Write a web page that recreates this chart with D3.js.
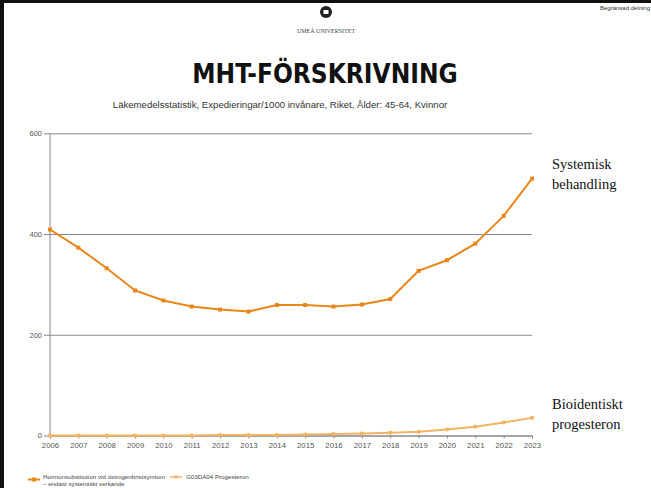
<!DOCTYPE html>
<html><head><meta charset="utf-8">
<script src="https://cdn.jsdelivr.net/npm/d3@7"></script>
<style>body{margin:0;background:#fff}svg{display:block}</style>
</head><body>
<svg id="c" width="651" height="488"></svg>
<script>
const years = [2006,2007,2008,2009,2010,2011,2012,2013,2014,2015,2016,2017,2018,2019,2020,2021,2022,2023];
const systemisk = [409,373,332,288,268,256,250,246,259,259,256,260,271,327,348,381,436,510];
const progesteron = [0,0,0,0,0,0,1,1,1,2,3,4,5.5,7.5,12,17.5,26,35];
const yTicks = [0,200,400,600];
const seriesNames = ["Hormonsubstitution vid östrogenbristsymtom", "– endast systemiskt verkande", "G03DA04 Progesteron"];

const svg = d3.select("#c");
// slide border
svg.append("rect").attr("x",0).attr("y",0).attr("width",651).attr("height",3).attr("fill","#111");
svg.append("rect").attr("x",0).attr("y",0).attr("width",4).attr("height",488).attr("fill","#111");

// logo
svg.append("circle").attr("cx",326).attr("cy",12).attr("r",6).attr("fill","#222");
svg.append("rect").attr("x",323.5).attr("y",10).attr("width",5).attr("height",4).attr("fill","#fff");
svg.append("text").attr("x",326).attr("y",33).attr("text-anchor","middle")
  .attr("font-family","Liberation Serif").attr("font-size",6).attr("fill","#444").text("UMEÅ UNIVERSITET");
svg.append("text").attr("x",650).attr("y",10).attr("text-anchor","end")
  .attr("font-family","Liberation Sans").attr("font-size",6).attr("fill","#333").text("Begränsad delning");

svg.append("text").attr("x",325).attr("y",83).attr("text-anchor","middle")
  .attr("font-family","DejaVu Sans Condensed, DejaVu Sans").attr("font-stretch","condensed").attr("font-weight","bold")
  .attr("font-size",26).attr("fill","#111").text("MHT-FÖRSKRIVNING");
svg.append("text").attr("x",280).attr("y",108).attr("text-anchor","middle")
  .attr("font-family","Liberation Sans").attr("font-size",9.6).attr("fill","#333")
  .text("Läkemedelsstatistik, Expedieringar/1000 invånare, Riket, Ålder: 45-64, Kvinnor");

const x = d3.scaleLinear().domain([2006,2023]).range([50,532]);
const y = d3.scaleLinear().domain([0,600]).range([435.5,133.3]);

const g = svg.append("g");
// gridlines
const yAx = g.append("g").attr("transform","translate(50,0)")
  .call(d3.axisLeft(y).tickValues(yTicks).tickSize(6).tickPadding(2).tickFormat(d3.format("d")));
yAx.select(".domain").remove();
yAx.selectAll("line").attr("stroke","#888").attr("x2",482).attr("x1",-6);
yAx.selectAll("text").attr("font-family","Liberation Sans").attr("font-size",7.5).attr("fill","#555");
g.append("line").attr("x1",50).attr("x2",50).attr("y1",y(600)).attr("y2",y(0)).attr("stroke","#888");

const xAx = g.append("g").attr("transform","translate(0,435.5)")
  .call(d3.axisBottom(x).tickValues(years).tickSize(3).tickPadding(4).tickFormat(d3.format("d")));
xAx.select(".domain").attr("stroke","#888");
xAx.selectAll("line").attr("stroke","#888");
xAx.selectAll("text").attr("font-family","Liberation Sans").attr("font-size",7.8).attr("fill","#555");

const c1 = "#E8861A", c2 = "#F2B463";
const line = d3.line().x((d,i)=>x(years[i])).y(d=>y(d));
g.append("path").datum(progesteron).attr("d",line).attr("fill","none").attr("stroke",c2).attr("stroke-width",2);
g.selectAll(".p2").data(progesteron).join("rect").attr("x",(d,i)=>x(years[i])-1.8).attr("y",d=>y(d)-1.8)
  .attr("width",3.6).attr("height",3.6).attr("fill",c2);
g.append("path").datum(systemisk).attr("d",line).attr("fill","none").attr("stroke",c1).attr("stroke-width",2);
g.selectAll(".p1").data(systemisk).join("rect").attr("x",(d,i)=>x(years[i])-2).attr("y",d=>y(d)-2)
  .attr("width",4).attr("height",4).attr("fill",c1);

// annotations
const ann = (txt, yy) => svg.append("text").attr("x",552).attr("y",yy)
  .attr("font-family","Liberation Serif").attr("font-size",14.5).attr("fill","#111").text(txt);
ann("Systemisk",169); ann("behandling",189);
ann("Bioidentiskt",409); ann("progesteron",429);

// legend
const lg = svg.append("g");
const lf = 6.2;
lg.append("line").attr("x1",28).attr("x2",40).attr("y1",479.5).attr("y2",479.5).attr("stroke",c1).attr("stroke-width",2);
lg.append("rect").attr("x",32).attr("y",477.5).attr("width",4).attr("height",4).attr("fill",c1);
lg.append("text").attr("x",43).attr("y",479).attr("font-family","Liberation Sans").attr("font-size",lf).attr("fill","#444").text(seriesNames[0]);
lg.append("text").attr("x",43).attr("y",485.5).attr("font-family","Liberation Sans").attr("font-size",lf).attr("fill","#444").text(seriesNames[1]);
lg.append("line").attr("x1",170).attr("x2",182).attr("y1",477).attr("y2",477).attr("stroke",c2).attr("stroke-width",1.5);
lg.append("rect").attr("x",174.5).attr("y",475.5).attr("width",3).attr("height",3).attr("fill",c2);
lg.append("text").attr("x",186).attr("y",479).attr("font-family","Liberation Sans").attr("font-size",lf).attr("fill","#444").text(seriesNames[2]);
</script>
</body></html>
